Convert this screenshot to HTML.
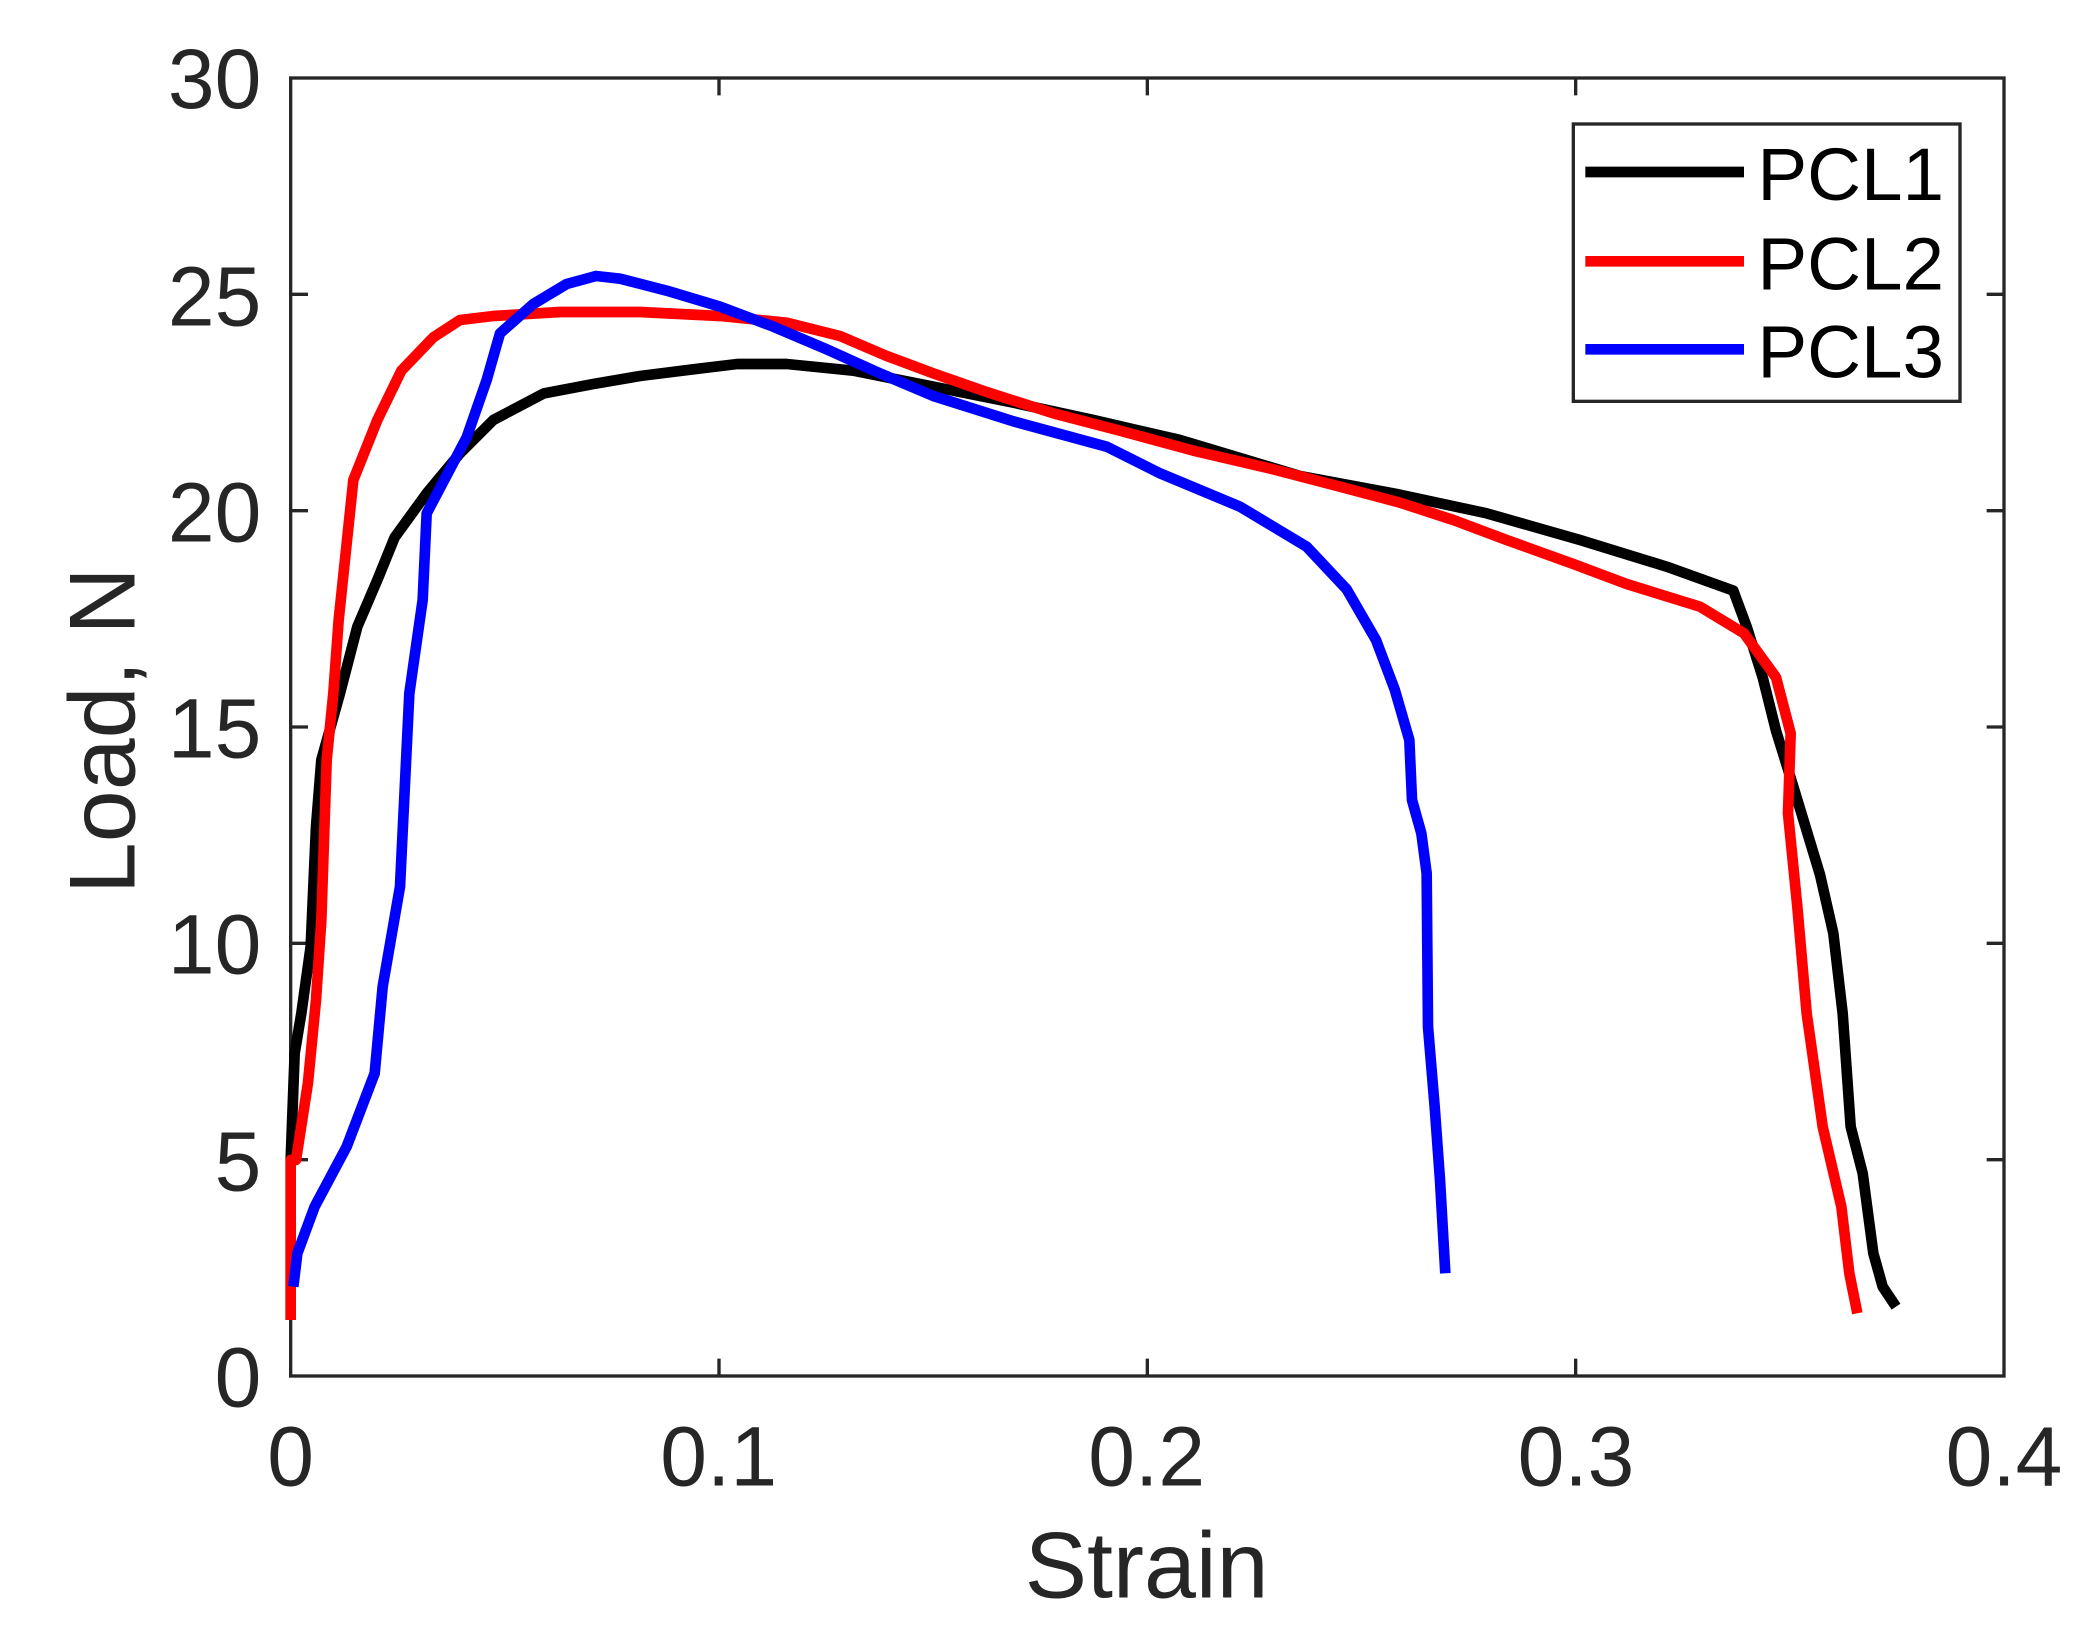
<!DOCTYPE html>
<html><head><meta charset="utf-8"><style>html,body{margin:0;padding:0;background:#fff}svg{display:block}</style></head>
<body>
<svg width="2085" height="1630" viewBox="0 0 1563.75 1222.5" xmlns="http://www.w3.org/2000/svg" font-family="Liberation Sans, Arial, sans-serif">
<rect x="0" y="0" width="1563.75" height="1222.5" fill="#fff"/>
<g stroke="#262626" stroke-width="2.5" fill="none">
<rect x="218" y="58.5" width="1285" height="973.5"/>
<path d="M539.25 1032v-13M860.5 1032v-13M1181.75 1032v-13M539.25 58.5v13M860.5 58.5v13M1181.75 58.5v13"/>
<path d="M218 869.75h13M218 707.5h13M218 545.25h13M218 383h13M218 220.75h13M1503 869.75h-13M1503 707.5h-13M1503 545.25h-13M1503 383h-13M1503 220.75h-13"/>
</g>
<g fill="#262626" font-size="63" text-anchor="end">
<text x="196" y="1055">0</text>
<text x="196" y="893">5</text>
<text x="196" y="730">10</text>
<text x="196" y="568">15</text>
<text x="196" y="406">20</text>
<text x="196" y="244">25</text>
<text x="196" y="81">30</text>
</g>
<g fill="#262626" font-size="63" text-anchor="middle">
<text x="218" y="1114">0</text>
<text x="539" y="1114">0.1</text>
<text x="860" y="1114">0.2</text>
<text x="1182" y="1114">0.3</text>
<text x="1503" y="1114">0.4</text>
<text x="860" y="1198" font-size="70">Strain</text>
<text transform="translate(101,548) rotate(-90)" font-size="70">Load, N</text>
</g>
<g fill="none" stroke-width="8" stroke-linejoin="round">
<polyline stroke="#000" points="218,870 221,790 226,760 233,710 237,620 241,570 255,520 268,470 283,435 296,403 320,370 345,340 370,315 408,295 445,288 480,282 520,277 553,273 590,273 640,278 700,290 760,302 820,315 885,330 935,345 975,357 1045,370 1115,385 1185,405 1250,425 1300,443 1310,470 1322,508 1332,548 1345,590 1365,656 1375,700 1382,760 1388,845 1397,880 1405,940 1412,965 1422,980"/>
<polyline stroke="#ff0000" points="218,990 218,870 222,870 231,812 237,750 241,690 245,570 250,520 254,465 265,360 283,315 301,278 325,253 345,240 370,237 420,234 480,234 540,237 590,242 630,252 665,267 700,280 740,294 790,310 840,323 895,338 955,352 1005,365 1050,377 1090,390 1130,405 1180,423 1220,438 1275,455 1308,475 1332,508 1343,550 1341,610 1348,680 1355,760 1367,845 1381,905 1387,955 1393,985"/>
<polyline stroke="#0000ff" points="220,965 223,940 236,905 260,860 281,805 287,740 300,665 307,520 317,450 320,385 350,328 365,285 375,250 400,228 425,213 447,207 465,209 500,218 540,230 580,245 620,262 660,280 700,297 760,316 830,335 870,355 930,380 980,410 1010,442 1032,480 1046,517 1057,555 1059,600 1066,625 1070,655 1071,770 1076,830 1080,885 1084,955"/>
</g>
<rect x="1180" y="93" width="290" height="208" fill="#fff" stroke="#262626" stroke-width="2.5"/>
<g stroke-width="8">
<line x1="1189" y1="129" x2="1308" y2="129" stroke="#000"/>
<line x1="1189" y1="196" x2="1308" y2="196" stroke="#ff0000"/>
<line x1="1189" y1="262" x2="1308" y2="262" stroke="#0000ff"/>
</g>
<g fill="#000" font-size="56">
<text x="1318" y="150">PCL1</text>
<text x="1318" y="217">PCL2</text>
<text x="1318" y="283">PCL3</text>
</g>
</svg>
</body></html>
